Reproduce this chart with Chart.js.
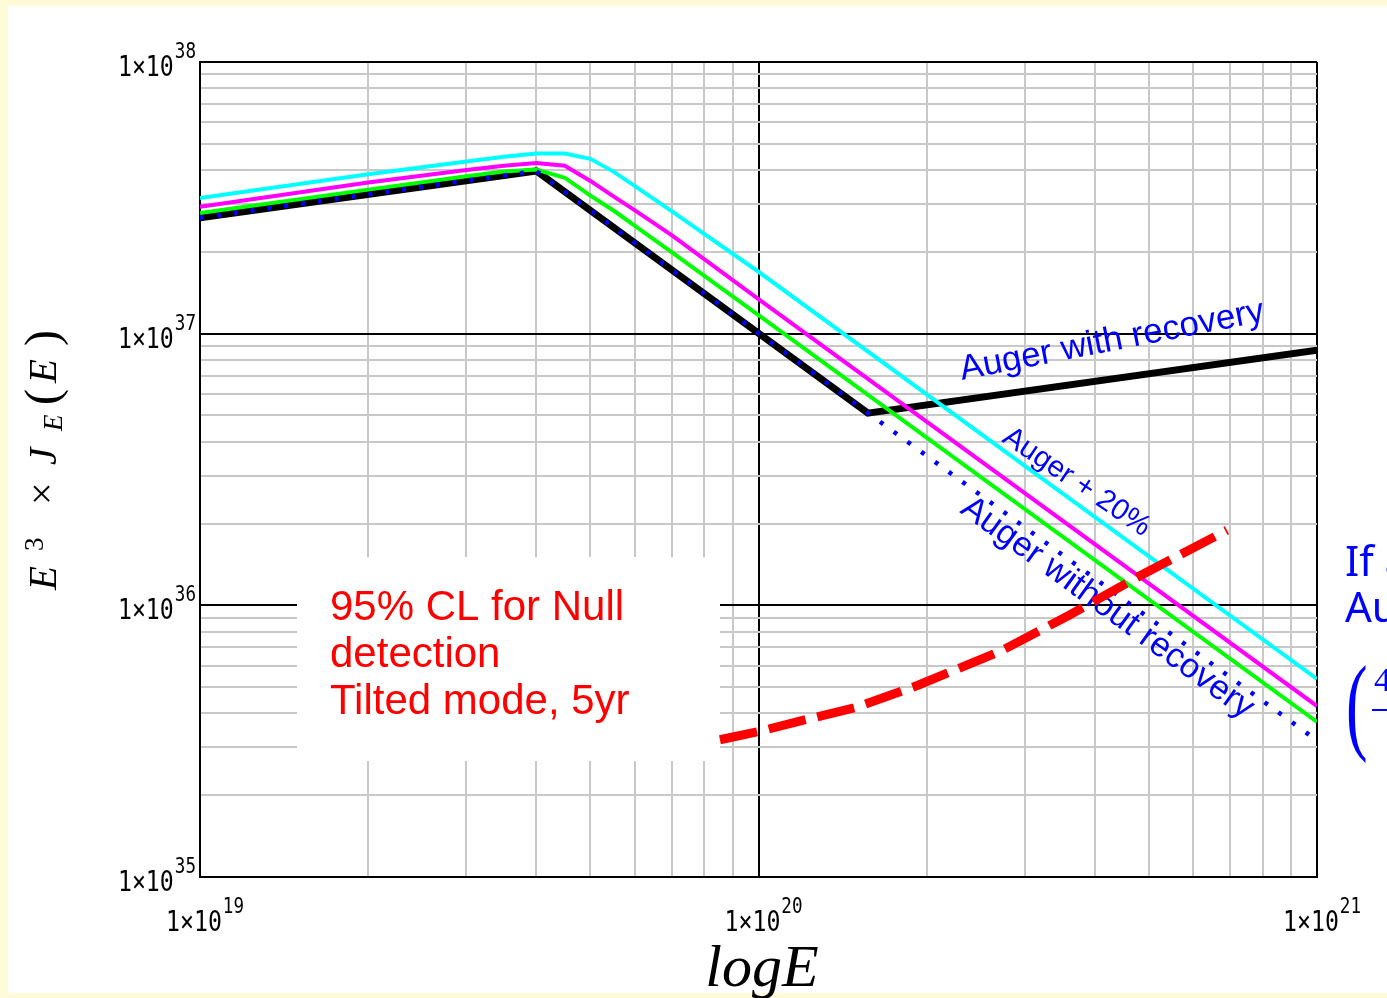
<!DOCTYPE html>
<html>
<head>
<meta charset="utf-8">
<script src="https://cdn.jsdelivr.net/npm/chart.js@4.4.1/dist/chart.umd.min.js"></script>
<style>
  html, body { margin: 0; padding: 0; background: #FFFBD6; overflow: hidden; }
  #wrap { position: absolute; left: 0; top: 0; width: 1387px; height: 998px; }
</style>
</head>
<body>
<div id="wrap"><canvas id="c" width="1387" height="998"></canvas></div>
<script>
// Axis decades and their exponent labels
const xDecades = [1e19, 1e20, 1e21];
const xExponents = ['19', '20', '21'];
const yDecades = [1e35, 1e36, 1e37, 1e38];
const yExponents = ['35', '36', '37', '38'];

// Auger spectrum, E^3 x J_E(E): with recovery above the second break
const recoveryE = [1e19, 4e19, 1.57e20, 1e21];
const recoveryV = [2.67e37, 3.97e37, 5.1e36, 8.7e36];

// Auger spectrum continuing the steep fall (no recovery)
const noRecoveryE = [1e19, 4e19, 1e21];
const noRecoveryV = [2.67e37, 3.97e37, 3.18e35];

// Energy-shifted spectra sampled at the same energies
const shiftedE = [1e19, 2e19, 3e19, 3.5e19, 4e19, 4.5e19, 5e19, 5.5e19, 6e19, 7e19, 1e20, 1e21];
const greenV   = [2.78e37, 3.39e37, 3.80e37, 3.95e37, 4.02e37, 3.75e37, 3.22e37, 2.84e37, 2.50e37, 1.99e37, 1.17e37, 3.72e35];
const magentaV = [2.93e37, 3.60e37, 4.00e37, 4.15e37, 4.25e37, 4.15e37, 3.65e37, 3.20e37, 2.85e37, 2.30e37, 1.34e37, 4.26e35];
const cyanV    = [3.16e37, 3.86e37, 4.30e37, 4.48e37, 4.60e37, 4.60e37, 4.40e37, 3.95e37, 3.50e37, 2.82e37, 1.69e37, 5.36e35];

// 95% CL sensitivity curve for a null detection (tilted mode, 5 yr)
const nullE = [8.53e19, 1.0e20, 1.25e20, 1.5e20, 1.93e20, 2.72e20, 3.6e20, 4.84e20, 6.9e20];
const nullV = [3.20e35, 3.43e35, 3.85e35, 4.22e35, 5.08e35, 6.80e35, 9.20e35, 1.29e36, 1.89e36];

const pts = (E, V) => E.map((e, i) => ({ x: e, y: V[i] }));

function isDecade(v) {
  const l = Math.log10(v);
  return Math.abs(l - Math.round(l)) < 1e-9;
}

// 1..9 x 10^n gridline positions for a range of decades
function logTicks(decades) {
  const out = [];
  for (let d = 0; d < decades.length - 1; d++) {
    for (let m = 1; m <= 9; m++) out.push({ value: decades[d] * m });
  }
  out.push({ value: decades[decades.length - 1] });
  return out;
}

const gridColor = (ctx) => isDecade(ctx.tick.value) ? '#000000' : '#C8C8C8';
const gridWidth = (ctx) => 2;

function power(c, exp, xBase, yBase, align) {
  // draws "1×10" followed by a raised exponent
  c.save();
  c.fillStyle = '#000';
  c.textBaseline = 'alphabetic';
  const sx = 0.8;
  c.font = "29px 'DejaVu Sans Mono', monospace";
  const baseW = c.measureText('1\u00D710').width * sx;
  c.font = "22px 'DejaVu Sans Mono', monospace";
  const supW = c.measureText(exp).width * sx;
  let x0 = xBase;
  if (align === 'right') x0 = xBase - baseW - supW - 1;
  c.save();
  c.translate(x0, yBase);
  c.scale(sx, 1);
  c.font = "29px 'DejaVu Sans Mono', monospace";
  c.fillText('1\u00D710', 0, 0);
  c.restore();
  c.save();
  c.translate(x0 + baseW + 1, yBase - 18);
  c.scale(sx, 1);
  c.font = "22px 'DejaVu Sans Mono', monospace";
  c.fillText(exp, 0, 0);
  c.restore();
  c.restore();
}

function rotatedText(c, text, x, y, deg, font, color) {
  c.save();
  c.translate(x, y);
  c.rotate(deg * Math.PI / 180);
  c.font = font;
  c.fillStyle = color;
  c.textBaseline = 'alphabetic';
  c.textAlign = 'left';
  c.fillText(text, 0, 0);
  c.restore();
}

const decor = {
  id: 'decor',
  beforeDraw(chart) {
    const c = chart.ctx;
    c.save();
    c.fillStyle = '#FFFBD6';
    c.fillRect(0, 0, chart.width, chart.height);
    c.fillStyle = '#FFFFFF';
    c.fillRect(8, 6, chart.width - 8, 987);
    c.restore();
  },
  beforeDatasetsDraw(chart) {
    const c = chart.ctx;
    // legend box over the grid
    c.save();
    c.fillStyle = '#FFFFFF';
    c.fillRect(297, 557, 423, 204);
    c.fillStyle = '#FF0000';
    c.font = "42px 'Liberation Sans', Arial, sans-serif";
    c.textBaseline = 'alphabetic';
    c.fillText('95% CL for Null', 330, 620);
    c.fillText('detection', 330, 667);
    c.fillText('Tilted mode, 5yr', 330, 714);
    c.restore();

    const blue = '#0000FF';
    rotatedText(c, 'Auger with recovery', 962, 380, -11, "35px 'Liberation Sans', Arial, sans-serif", blue);
    rotatedText(c, 'Auger + 20%', 1001, 441, 34, "29.5px 'Liberation Sans', Arial, sans-serif", blue);
    rotatedText(c, 'Auger without recovery', 959, 512, 36, "34.5px 'Liberation Sans', Arial, sans-serif", blue);
  },
  afterDraw(chart) {
    const c = chart.ctx;
    const xs = chart.scales.x, ys = chart.scales.y;

    yDecades.forEach((v, i) => {
      const py = ys.getPixelForValue(v);
      power(c, yExponents[i], 196, py + 14, 'right');
    });
    xDecades.forEach((v, i) => {
      const px = xs.getPixelForValue(v);
      power(c, xExponents[i], px - 34, 931, 'left');
    });

    // x-axis title
    c.save();
    c.fillStyle = '#000';
    c.font = "italic 60px 'Liberation Serif', 'Times New Roman', serif";
    c.textAlign = 'center';
    c.textBaseline = 'alphabetic';
    c.fillText('logE', 762, 986);
    c.restore();

    // y-axis title: E^3 × J_E(E), reading bottom to top
    c.save();
    c.translate(56, 0);
    c.rotate(-Math.PI / 2);
    c.fillStyle = '#000';
    c.textBaseline = 'alphabetic';
    const it = "italic 39px 'Liberation Serif', serif";
    const paren = "48px 'Liberation Serif', serif";
    const parts = [
      ['E', 590, 0, it],
      ['3', 551, -13, "27px 'Liberation Serif', serif"],
      ['\u00D7', 505, -1, "40px 'Liberation Serif', serif"],
      ['J', 465, 0, it],
      ['E', 431, 6, "italic 27px 'Liberation Serif', serif"],
      ['(', 405, 2, paren],
      ['E', 383, 0, it],
      [')', 346, 2, paren]
    ];
    parts.forEach(([t, y, dv, f]) => { c.font = f; c.fillText(t, -y, dv); });
    c.restore();

    // side note, running off the right edge
    c.save();
    c.fillStyle = '#0000FF';
    c.font = "42px 'Noto Sans', 'Open Sans', sans-serif";
    c.textBaseline = 'alphabetic';
    c.fillText('If a', 1345, 576);
    c.fillText('Au', 1345, 622);
    c.save();
    c.translate(1346, 740);
    c.scale(0.6, 1);
    c.font = "108px 'Liberation Serif', serif";
    c.fillText('(', 0, 0);
    c.restore();
    c.font = "34px 'Liberation Serif', serif";
    c.fillText('4', 1374, 691);
    c.fillRect(1372, 709, 20, 2);
    c.restore();
  }
};

new Chart(document.getElementById('c'), {
  type: 'line',
  data: {
    datasets: [
      { label: 'null', data: pts(nullE, nullV), borderColor: '#FF0000', borderWidth: 9, borderDash: [38, 12], borderCapStyle: 'butt', order: 0 },
      { label: 'without recovery', data: pts(noRecoveryE, noRecoveryV), borderColor: '#0000FF', borderWidth: 4.5, borderDash: [4, 13], borderCapStyle: 'butt', order: 1 },
      { label: 'cyan', data: pts(shiftedE, cyanV), borderColor: '#00FFFF', borderWidth: 4, order: 2 },
      { label: 'magenta', data: pts(shiftedE, magentaV), borderColor: '#FF00FF', borderWidth: 4, order: 3 },
      { label: 'green', data: pts(shiftedE, greenV), borderColor: '#00FF00', borderWidth: 4, order: 4 },
      { label: 'with recovery', data: pts(recoveryE, recoveryV), borderColor: '#000000', borderWidth: 7, order: 5 }
    ]
  },
  options: {
    responsive: false,
    animation: false,
    devicePixelRatio: 1,
    layout: { padding: { left: 200, top: 62, right: 70, bottom: 121 } },
    elements: { point: { radius: 0 }, line: { tension: 0, fill: false } },
    plugins: { legend: { display: false }, tooltip: { enabled: false } },
    scales: {
      x: {
        type: 'logarithmic', min: xDecades[0], max: xDecades[xDecades.length - 1],
        afterBuildTicks: (s) => { s.ticks = logTicks(xDecades); },
        afterFit: (s) => { s.height = 0; },
        ticks: { display: false, autoSkip: false },
        grid: { color: gridColor, lineWidth: gridWidth, drawTicks: false },
        border: { color: '#000', width: 2 }
      },
      y: {
        type: 'logarithmic', min: yDecades[0], max: yDecades[yDecades.length - 1],
        afterBuildTicks: (s) => { s.ticks = logTicks(yDecades); },
        afterFit: (s) => { s.width = 0; },
        ticks: { display: false, autoSkip: false },
        grid: { color: gridColor, lineWidth: gridWidth, drawTicks: false },
        border: { color: '#000', width: 2 }
      }
    }
  },
  plugins: [decor]
});
</script>
</body>
</html>
